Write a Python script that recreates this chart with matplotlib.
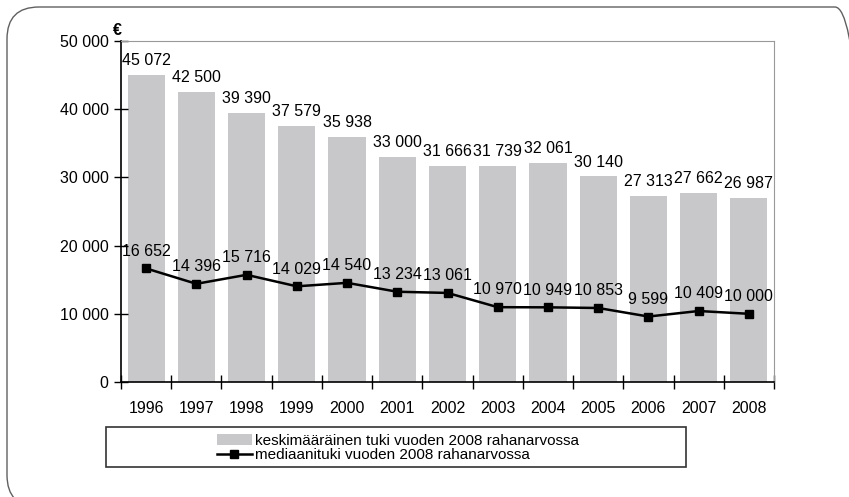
import matplotlib.pyplot as plt
from matplotlib.patches import FancyBboxPatch, Rectangle
from matplotlib.transforms import IdentityTransform

plt.rcParams['font.family'] = ['Liberation Sans', 'DejaVu Sans']

years = ['1996', '1997', '1998', '1999', '2000', '2001', '2002',
         '2003', '2004', '2005', '2006', '2007', '2008']
keskim = [45072, 42500, 39390, 37579, 35938, 33000, 31666,
          31739, 32061, 30140, 27313, 27662, 26987]
mediaani = [16652, 14396, 15716, 14029, 14540, 13234, 13061,
            10970, 10949, 10853, 9599, 10409, 10000]
yticks = [0, 10000, 20000, 30000, 40000, 50000]


def fmt(v):
    return f'{v:,}'.replace(',', ' ')


W, H = 849, 497
fig = plt.figure(figsize=(W / 100, H / 100), dpi=100)

# rounded outer frame (runs off the right and bottom edges)
fig.patches.append(FancyBboxPatch((7, -10), 860, H - 7 + 10,
                                  boxstyle='round,pad=0,rounding_size=32',
                                  transform=IdentityTransform(), fill=False,
                                  edgecolor='#606060', linewidth=1.0))

ax = fig.add_axes([121 / W, 1 - 382 / H, 653 / W, 341 / H])
x = list(range(len(years)))
bars = ax.bar(x, keskim, width=0.74, color='#c8c8ca')
line, = ax.plot(x, mediaani, color='black', linewidth=1.8, marker='s',
                markersize=6)

for xi, v in zip(x, keskim):
    ax.annotate(fmt(v), (xi, v), xytext=(0, 5), textcoords='offset points',
                ha='center', va='bottom', fontsize=11.5)
for xi, v in zip(x, mediaani):
    ax.annotate(fmt(v), (xi, v), xytext=(0, 7), textcoords='offset points',
                ha='center', va='bottom', fontsize=11.5)

ax.set_xlim(-0.5, len(years) - 0.5)
ax.set_ylim(0, 50000)
ax.set_yticks(yticks)
ax.set_yticklabels([fmt(v) for v in yticks], fontsize=11.5)
ax.set_xticks([i - 0.5 for i in range(len(years) + 1)])
ax.set_xticklabels([])
ax.set_xticks(x, minor=True)
ax.set_xticklabels(years, minor=True, fontsize=11.5)
ax.tick_params(axis='x', which='minor', length=0, pad=14)
ax.tick_params(axis='x', which='major', direction='inout', length=10, width=1)
ax.tick_params(axis='y', direction='inout', length=10, width=1, pad=4)

for s in ['top', 'right']:
    ax.spines[s].set_color('#999999')
for s in ['left', 'bottom']:
    ax.spines[s].set_color('black')
    ax.spines[s].set_linewidth(1.2)

ax.text(-0.006, 1.01, '€', transform=ax.transAxes, ha='center', va='bottom',
        fontsize=11.5, fontweight='bold')

# legend box
fig.patches.append(Rectangle((106, H - 467), 580, 40,
                             transform=IdentityTransform(), fill=False,
                             edgecolor='#333333', linewidth=1.2))
fig.legend([bars, line],
           ['keskimääräinen tuki vuoden 2008 rahanarvossa',
            'mediaanituki vuoden 2008 rahanarvossa'],
           loc='center', bbox_to_anchor=(398 / W, 1 - 448 / H),
           frameon=False, fontsize=11, labelspacing=0.0, handlelength=2.3,
           handleheight=0.7, handletextpad=0.25, borderpad=0)

fig.savefig('out.png', dpi=100)
